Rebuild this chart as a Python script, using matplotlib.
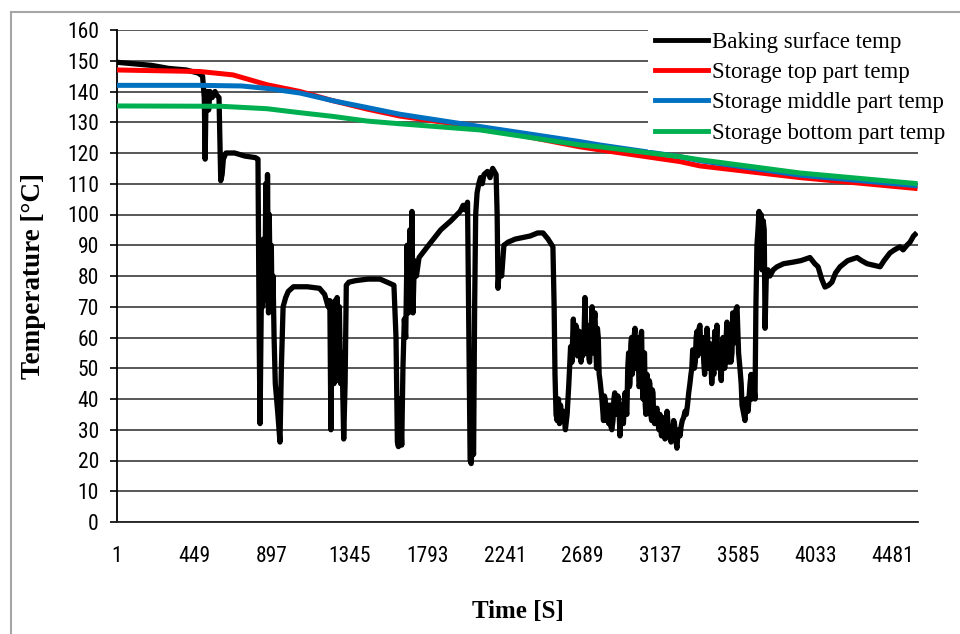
import matplotlib
matplotlib.use("Agg")
import matplotlib.pyplot as plt
from matplotlib.lines import Line2D
from matplotlib import font_manager

# ---- data ----
base_t = [1, 100, 200, 300, 400, 470, 495, 505, 510, 515, 525, 530, 538, 550, 560, 567, 575,
          590, 600, 608, 615, 630, 680, 740, 800, 815,
          822, 827, 832, 838, 842, 846, 850, 856, 860, 866, 870, 876, 880, 886, 892, 896, 902, 908,
          915, 930, 942, 950, 960, 975, 990, 1020, 1100, 1170, 1200, 1220, 1230, 1236, 1242, 1248,
          1254, 1260, 1266, 1272, 1278, 1285, 1292, 1300, 1310, 1318, 1325, 1340, 1380, 1450, 1520,
          1560, 1600, 1612, 1620, 1626, 1635, 1645, 1652, 1660, 1668, 1676, 1684, 1692, 1700, 1704,
          1710, 1718, 1730, 1745, 1800, 1870, 1930, 1982, 2000, 2010, 2025, 2033, 2040, 2046, 2052,
          2060, 2066, 2072, 2080, 2090, 2100, 2110, 2120, 2140, 2155, 2170, 2190, 2196, 2201, 2210,
          2222, 2235, 2259, 2300, 2386, 2430, 2461, 2490, 2518, 2525, 2530, 2536, 2542, 2550, 2556,
          2562, 2571, 2580, 2590, 2600, 2610, 2620, 2628, 2632, 2636, 2641, 2646, 2650, 2655, 2660,
          2663, 2670, 2675, 2680, 2686, 2690, 2695, 2703, 2708, 2712, 2716, 2721, 2726, 2730, 2737,
          2744, 2748, 2752, 2757, 2761, 2766, 2770, 2775, 2780, 2785, 2790, 2801, 2806, 2810, 2815,
          2820, 2825, 2830, 2835, 2840, 2848, 2853, 2858, 2865, 2870, 2875, 2881, 2888, 2893, 2898,
          2905, 2910, 2915, 2920, 2925, 2934, 2940, 2945, 2950, 2955, 2960, 2963, 2968, 2972, 2976,
          2980, 2986, 2992, 2996, 3000, 3005, 3010, 3015, 3021, 3025, 3030, 3034, 3038, 3043, 3047,
          3051, 3055, 3061, 3066, 3070, 3074, 3078, 3083, 3088, 3092, 3096, 3100, 3105, 3112, 3119,
          3125, 3130, 3136, 3140, 3145, 3150, 3153, 3160, 3165, 3171, 3177, 3184, 3190, 3195, 3200,
          3205, 3210, 3215, 3220, 3227, 3234, 3240, 3245, 3252, 3258, 3265, 3273, 3281, 3288, 3295,
          3302, 3309, 3315, 3320, 3325, 3330, 3335, 3340, 3345, 3350, 3354, 3358, 3362, 3367, 3372,
          3378, 3384, 3389, 3394, 3400, 3404, 3408, 3413, 3418, 3425, 3430, 3435, 3442, 3447, 3452,
          3458, 3465, 3470, 3475, 3483, 3487, 3490, 3495, 3500, 3505, 3510, 3516, 3523, 3528, 3533,
          3537, 3541, 3546, 3552, 3556, 3560, 3565, 3569, 3575, 3581, 3590, 3598, 3605, 3610, 3620,
          3627, 3635, 3645, 3656, 3662, 3667, 3675, 3685,
          3690, 3696, 3702, 3708, 3715, 3720, 3725, 3732, 3738, 3743, 3750, 3760, 3771, 3790, 3812,
          3850, 3904, 3950, 4002, 4030, 4049, 4070, 4089, 4110, 4129, 4150, 4176, 4220, 4274, 4300,
          4332, 4370, 4407, 4430, 4464, 4490, 4522, 4540, 4562, 4580, 4600, 4609]
baking_temp = [149.5, 149, 148.5, 147.5, 147, 146, 145, 138, 118, 138, 140, 134, 140, 138, 139, 140, 139,
               138, 111, 113, 118, 120, 120, 119, 118.5, 118,
               60, 32, 60, 90, 70, 92, 85, 80, 110, 72, 113, 68, 100, 75, 90, 70, 80, 60,
               45, 35, 26, 50, 70, 73, 75, 76.5, 76.5, 76, 74, 70, 72, 30, 60, 70,
               45, 72, 50, 73, 46, 70, 45, 55, 27, 45, 77, 78, 78.5, 79, 79,
               78, 77, 60, 26, 24.5, 40, 25, 50, 66, 60, 90, 68, 95, 70, 101,
               68, 85, 80, 86, 90, 95, 98, 101, 103, 101.5, 104, 60, 20, 19, 25,
               22, 70, 100, 107, 110, 112, 110, 113, 114, 112, 115, 113, 100, 76, 84,
               80, 90, 91, 92, 93, 94, 94, 92, 89.5, 70, 48, 35, 33, 40, 32,
               38, 33, 36, 30, 35, 45, 57, 52, 60, 66, 55, 58, 64, 63, 54,
               56, 62, 55, 52, 60, 54, 55, 73, 58, 55, 64, 62, 53, 52, 61,
               70, 58, 55, 66, 68, 56, 50, 63, 60, 48, 46, 40, 36, 33, 41,
               40, 33, 35, 38, 32, 38, 31, 30, 33, 40, 42, 36, 35, 41, 40,
               28, 36, 38, 33, 32, 42, 36, 35, 50, 55, 44, 45, 58, 60, 48,
               50, 60, 63, 50, 52, 60, 58, 44, 45, 60, 62, 46, 40, 54, 55,
               38, 35, 48, 40, 38, 46, 45, 35, 33, 43, 42, 33, 32, 36, 37,
               32, 30, 35, 31, 28, 34, 32, 29, 27, 33, 36, 31, 30, 27, 26,
               30, 28, 33, 32, 27, 24, 29, 30, 28, 31, 33, 34, 36, 35, 38,
               42, 45, 48, 50, 56, 55, 50, 52, 60, 62, 54, 55, 63, 64, 56,
               57, 60, 52, 48, 55, 50, 63, 58, 50, 58, 52, 45, 52, 48, 62,
               56, 64, 52, 50, 55, 48, 46, 56, 60, 55, 50, 58, 65, 55, 52,
               61, 60, 52, 55, 68, 58, 60, 65, 69, 70, 55, 50, 45, 38, 35,
               33, 40, 36, 45, 48, 40, 46, 40,
               70, 90, 95, 101, 90, 100, 82, 98, 95, 63, 80, 82, 80, 82, 83,
               84, 84.5, 85, 86, 84, 83, 79, 76.4, 77, 78, 81, 83, 85, 86, 85,
               84, 83.5, 83, 85, 87.5, 88.5, 89.5, 88.5, 90, 91, 93, 93.5]

top_t = [1, 480, 671, 769, 867, 1058, 1248, 1444, 1635, 2097, 2675, 2790, 3252, 3367, 3945, 4609]
top_temp = [147, 146.5, 145.4, 143.8, 142.2, 140, 137, 134.3, 132, 128.3, 122, 121, 117.2, 115.8, 112, 108.5]

mid_t = [1, 480, 720, 867, 1058, 1248, 1444, 1635, 2097, 2675, 2790, 3252, 3367, 3945, 4609]
mid_temp = [142, 142, 141.8, 141, 139.5, 137, 134.8, 132.6, 128.6, 123.7, 122.6, 118.8, 117.5, 112.8, 109.4]

bot_t = [1, 600, 867, 1058, 1248, 1444, 1635, 2097, 2675, 2790, 3252, 3367, 3945, 4609]
bot_temp = [135.3, 135.2, 134.4, 133.1, 131.9, 130.4, 129.5, 127.5, 122.6, 122, 118.8, 117.8, 113.5, 110.1]

series_labels = ["Baking surface temp", "Storage top part temp",
                 "Storage middle part temp", "Storage bottom part temp"]
x_ticks = [1, 449, 897, 1345, 1793, 2241, 2689, 3137, 3585, 4033, 4481]
y_ticks = list(range(0, 161, 10))

# pick a narrow sans font if available
names = {f.name for f in font_manager.fontManager.ttflist}
narrow = None
for cand in ['Liberation Sans Narrow', 'Arial Narrow', 'DejaVu Sans Condensed', 'Roboto Condensed',
             'Open Sans Condensed']:
    if cand in names:
        narrow = cand
        break

# ---- figure ----
fig = plt.figure(figsize=(9.6, 6.34), dpi=100)
ax = fig.add_axes([117 / 960, 1 - 522 / 634, (918 - 117) / 960, (522 - 30) / 634])

serif = ['Liberation Serif', 'DejaVu Serif']
if narrow:
    tick_kw = dict(family=[narrow, 'DejaVu Sans'], fontsize=15.5)
else:
    tick_kw = dict(family=['DejaVu Sans'], fontstretch='condensed', fontsize=14.5)

ax.plot(base_t, baking_temp, color='black', lw=3.8, solid_joinstyle='round', zorder=3, label=series_labels[0])
ax.plot(top_t, top_temp, color='#ff0000', lw=3.6, zorder=4, label=series_labels[1])
ax.plot(mid_t, mid_temp, color='#0070c0', lw=3.6, zorder=5, label=series_labels[2])
ax.plot(bot_t, bot_temp, color='#00b050', lw=3.6, zorder=6, label=series_labels[3])

ax.set_xlim(1, 4626)
ax.set_ylim(0, 160)
ax.set_yticks(y_ticks)
ax.set_xticks(x_ticks)
ax.set_xticklabels([str(v) for v in x_ticks], **tick_kw)
ax.set_yticklabels([str(v) for v in y_ticks], **tick_kw)
ax.tick_params(axis='y', length=5, width=1.2, pad=8, direction='out')
ax.tick_params(axis='x', length=0, pad=17)
ax.yaxis.grid(True, color='#2a2a2a', lw=1.1)
ax.set_axisbelow(True)
for s in ['top', 'right']:
    ax.spines[s].set_visible(False)
ax.spines['left'].set_linewidth(1.3)
ax.spines['bottom'].set_linewidth(1.3)
ax.spines['bottom'].set_color('#222222')

ax.set_ylabel("Temperature [°C]", family=serif, fontweight='bold', fontsize=19.5, labelpad=15)
ax.set_xlabel("Time [S]", family=serif, fontweight='bold', fontsize=18, labelpad=24)

leg = ax.legend(loc='upper left', bbox_to_anchor=(648 / 960, 1 - 25 / 634),
                bbox_transform=fig.transFigure, prop={'family': serif, 'size': 16.5},
                frameon=True, fancybox=False, borderaxespad=0, borderpad=0.3,
                handlelength=2.3, handletextpad=0.2, labelspacing=0.4)
leg.get_frame().set_facecolor('white')
leg.get_frame().set_edgecolor('none')
leg.get_frame().set_alpha(1)
leg.set_zorder(10)
for h in leg.get_lines():
    h.set_linewidth(3.5)

# outer chart border (gray)
fig.add_artist(Line2D([11 / 960, 11 / 960], [1 - 12 / 634, 0], color='#a6a6a6', lw=1.5))
fig.add_artist(Line2D([11 / 960, 1], [1 - 12 / 634, 1 - 12 / 634], color='#a6a6a6', lw=1.5))

fig.savefig("out.png", dpi=100)
